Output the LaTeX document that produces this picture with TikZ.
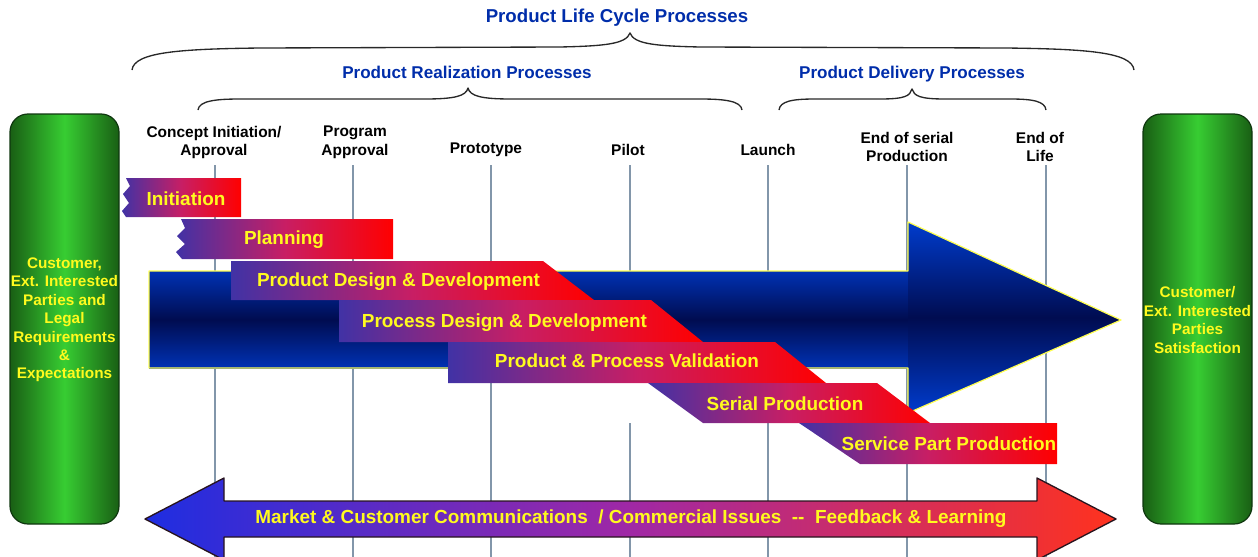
\documentclass[tikz,border=0pt]{standalone}
\usepackage{fontspec}
\setmainfont{Liberation Sans}
\definecolor{titleblue}{RGB}{0,45,170}
\definecolor{linegray}{RGB}{130,150,170}
\definecolor{bracegray}{RGB}{40,40,40}
\definecolor{barblue}{RGB}{65,50,165}
\definecolor{barmid}{RGB}{200,30,100}
\definecolor{barred}{RGB}{255,0,0}
\definecolor{baryellow}{RGB}{255,250,30}
\definecolor{pillardark}{RGB}{25,95,20}
\definecolor{pillarlight}{RGB}{55,205,50}
\definecolor{pillarrim}{RGB}{15,55,15}
\definecolor{arrowblue}{RGB}{0,50,180}
\definecolor{arrownavy}{RGB}{0,12,80}
\definecolor{arrowrim}{RGB}{255,255,80}
\definecolor{fbblue}{RGB}{30,45,225}
\definecolor{fbmid}{RGB}{160,40,165}
\definecolor{fbred}{RGB}{255,50,30}
\definecolor{fbrim}{RGB}{40,20,30}
\begin{document}
\begin{tikzpicture}[x=0.75pt, y=-0.75pt, line join=round,
title node/.style={font=\bfseries\fontsize{14}{16}\selectfont, text=titleblue, inner sep=0pt},
sub node/.style={font=\bfseries\fontsize{12.8}{15}\selectfont, text=titleblue, inner sep=0pt, anchor=base},
brace line/.style={draw=bracegray, line width=1pt},
stage node/.style={font=\bfseries\fontsize{11.6}{14.2}\selectfont, align=center, inner sep=0pt},
time line/.style={draw=linegray, line width=1pt},
bar/.style={left color=barblue, right color=barred, middle color=barmid},
bar node/.style={font=\bfseries\fontsize{14.2}{16}\selectfont, text=baryellow, inner sep=0pt},
pillar/.style={draw=pillarrim, line width=0.9pt, rounded corners=13.5pt, left color=pillardark, right color=pillardark, middle color=pillarlight},
pillar node/.style={font=\bfseries\fontsize{11.5}{13.8}\selectfont, text=baryellow, align=center, inner sep=0pt}]
\useasboundingbox (0,0) rectangle (1258,557);
\begin{scope}
\node[title node] (plc) at (617,18) {Product Life Cycle Processes};
\node[sub node] (prp) at (467,78) {Product Realization Processes};
\node[sub node] (pdp) at (912,78) {Product Delivery Processes};
\end{scope}
\begin{scope}
\draw[brace line] (132,70) .. controls (134,52) and (180,49) .. (260,48) -- (560,47) .. controls (605,46) and (626,44) .. (630,33)
 .. controls (634,44) and (655,46) .. (700,47) -- (1006,48) .. controls (1086,49) and (1132,52) .. (1134,70);
\draw[brace line] (198,110) .. controls (199,101) and (215,99) .. (240,99) -- (425,99) .. controls (455,99) and (466,96) .. (468,88)
 .. controls (470,96) and (481,99) .. (511,99) -- (700,99) .. controls (725,99) and (741,101) .. (742,110);
\draw[brace line] (779,110) .. controls (780,101) and (793,99) .. (815,99) -- (880,99) .. controls (905,99) and (910,96) .. (912,89)
 .. controls (914,96) and (920,99) .. (945,99) -- (1010,99) .. controls (1032,99) and (1045,101) .. (1046,110);
\end{scope}
\begin{scope}[every node/.style={stage node}]
\node (ms1) at (214,142.5) {Concept Initiation/\\Approval};
\node (ms2) at (355,142) {Program\\Approval};
\node (ms3) at (486,150) {Prototype};
\node (ms4) at (628,150) {Pilot};
\node (ms5) at (768,150) {Launch};
\node (ms6) at (907,147) {End of serial\\Production};
\node (ms7) at (1040,147) {End of\\Life};
\end{scope}
\begin{scope}
\coordinate (t1) at (215,165); \coordinate (b1) at (215,557);
\coordinate (t2) at (353,165); \coordinate (b2) at (353,557);
\coordinate (t3) at (491,165); \coordinate (b3) at (491,557);
\coordinate (t4) at (630,165); \coordinate (u4) at (630,271);
\coordinate (v4) at (630,423); \coordinate (b4) at (630,557);
\coordinate (t5) at (768,165); \coordinate (b5) at (768,557);
\coordinate (t6) at (907,165); \coordinate (b6) at (907,557);
\coordinate (t7) at (1046,165); \coordinate (b7) at (1046,557);
\draw[time line] (t1) -- (b1);
\draw[time line] (t2) -- (b2);
\draw[time line] (t3) -- (b3);
\draw[time line] (t4) -- (u4);
\draw[time line] (v4) -- (b4);
\draw[time line] (t5) -- (b5);
\draw[time line] (t6) -- (b6);
\draw[time line] (t7) -- (b7);
\end{scope}
% customer pillars
\path[pillar] (10,114) rectangle (119,524);
\path[pillar] (1143,114) rectangle (1252,524);
\node[pillar node] (req) at (64.5,320) {Customer,\\Ext. Interested\\Parties and\\Legal\\Requirements\\\&\\Expectations};
\node[pillar node] (sat) at (1197.5,320) {Customer/\\Ext. Interested\\Parties\\Satisfaction};
% big arrow
\path[top color=arrowblue, bottom color=arrowblue, middle color=arrownavy] (149,271) rectangle (908,368);
\path[top color={rgb,255:red,0;green,60;blue,205}, bottom color={rgb,255:red,0;green,60;blue,205}, middle color=arrownavy] (908,222) -- (1121,320) -- (908,413) -- cycle;
\draw[arrowrim, line width=0.9pt] (149,271) -- (908,271) -- (908,222) -- (1121,320) -- (908,413) -- (908,368) -- (149,368) -- cycle;
% phase bars
\path[bar] (126,178) -- (241,178) -- (241,217) -- (126,217) -- (122,211) -- (129,203) -- (123,194) -- (130,186) -- cycle;
\path[bar] (181,219) -- (393,219) -- (393,259) -- (182,259) -- (176,252) -- (185,244) -- (177,236) -- (185,228) -- cycle;
\path[bar] (231,261) -- (543,261) -- (594,300) -- (231,300) -- cycle;
\path[bar] (339,300) -- (651,300) -- (703,342) -- (339,342) -- cycle;
\path[bar] (448,342) -- (775,342) -- (826,383) -- (448,383) -- cycle;
\path[bar] (648,383) -- (877,383) -- (930,423) -- (703,423) -- cycle;
\path[bar] (799,423) -- (1057,423) -- (1057,464) -- (860,464) -- cycle;
\begin{scope}[every node/.style={bar node}]
\node (ini) at (186,199) {Initiation};
\node (pla) at (284,240) {Planning};
\node (pdd) at (398.5,282) {Product Design \& Development};
\node (rdd) at (504.5,323) {Process Design \& Development};
\node (ppv) at (627,361) {Product \& Process Validation};
\node (ser) at (785,404) {Serial Production};
\node (spp) at (949,444) {Service Part Production};
\end{scope}
% feedback arrow
\path[draw=fbrim, line width=1pt, left color=fbblue, right color=fbred, middle color=fbmid] (145,519) -- (224,478) -- (224,501) -- (1037,501) -- (1037,478) -- (1116,519) -- (1037,560) -- (1037,537) -- (224,537) -- (224,560) -- cycle;
\node[bar node] (fbl) at (631,519) {Market \& Customer Communications~~/ Commercial Issues~~{-}{-}~~Feedback \& Learning};
\end{tikzpicture}
\end{document}
